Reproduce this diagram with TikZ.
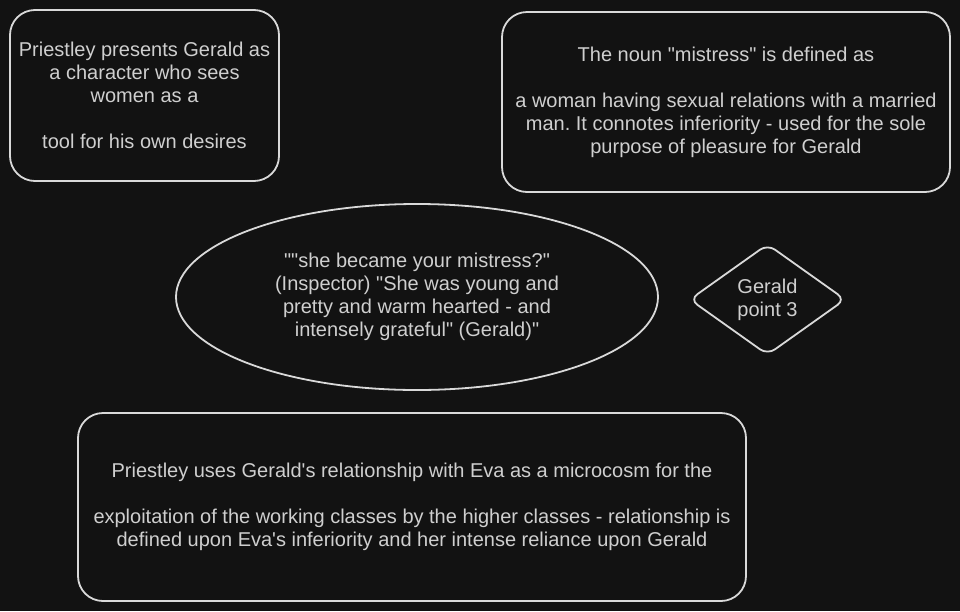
\documentclass[tikz,border=0pt]{standalone}
\usepackage{fontspec}
\setmainfont{Liberation Sans}
\usetikzlibrary{shapes.geometric}
\definecolor{bg}{HTML}{121212}
\definecolor{stroke}{HTML}{D9D9D9}
\definecolor{txt}{HTML}{CFCFCF}
\newcommand{\q}{\textquotedbl}
\newcommand{\ap}{\textquotesingle}
\frenchspacing
\tikzset{
  lbl/.style={text=txt, align=center, font=\fontsize{20pt}{23pt}\selectfont, inner sep=0pt},
  rbox/.style={lbl, draw=stroke, line width=1.8pt, rounded corners=25pt, rectangle},
  oval/.style={lbl, draw=stroke, line width=1.8pt, ellipse},
  dia/.style={lbl, draw=stroke, line width=1.8pt, diamond, rounded corners=9pt}
}
\begin{document}
\begin{tikzpicture}[x=1pt,y=-1pt]
\fill[bg] (0,0) rectangle (960,611);
\useasboundingbox (0,0) rectangle (960,611);
\node[rbox, minimum width=269pt, minimum height=171pt] (b1) at (144.5,95.5)
  {Priestley presents Gerald as\\a character who sees\\women as a\\[23pt]tool for his own desires};
\node[rbox, minimum width=448pt, minimum height=180pt] (b2) at (726,102)
  {The noun \q mistress\q{} is defined as\\[23pt]a woman having sexual relations with a married\\man. It connotes inferiority - used for the sole\\purpose of pleasure for Gerald};
\node[oval, minimum width=482pt, minimum height=186pt] (e1) at (417,297)
  {\q\q she became your mistress?\q\\(Inspector) \q She was young and\\pretty and warm hearted - and\\intensely grateful\q{} (Gerald)\q};
\node[dia, minimum width=156pt, minimum height=111pt] (d1) at (767.5,299.5)
  {Gerald\\point 3};
\node[rbox, minimum width=668pt, minimum height=188pt] (b3) at (412,507)
  {Priestley uses Gerald\ap s relationship with Eva as a microcosm for the\\[23pt]exploitation of the working classes by the higher classes - relationship is\\defined upon Eva\ap s inferiority and her intense reliance upon Gerald};
\end{tikzpicture}
\end{document}
